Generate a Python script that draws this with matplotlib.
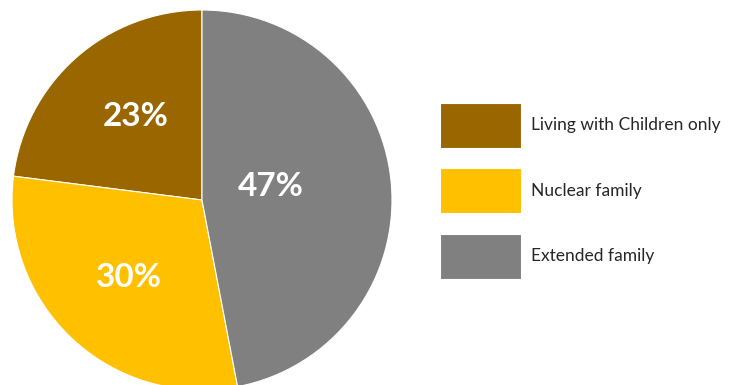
import matplotlib

matplotlib.use("Agg")
import matplotlib.pyplot as plt
import numpy as np

categories = ["Living with Children only", "Nuclear family", "Extended family"]
shares = [23, 30, 47]
colors = ["#996600", "#FFC000", "#808080"]
# radial position of each percentage label, as a fraction of the radius
label_dist = [0.56, 0.56, 0.37]

fig = plt.figure(figsize=(7.37, 3.85), dpi=100)
ax = fig.add_axes([12 / 737, -5 / 385, 380 / 737, 380 / 385])

wedges, _ = ax.pie(
    shares,
    colors=colors,
    startangle=90,
    counterclock=True,
    wedgeprops=dict(edgecolor="white", linewidth=0.8),
)
ax.set_xlim(-1, 1)
ax.set_ylim(-1, 1)
ax.set_aspect("equal")

for w, d, v in zip(wedges, label_dist, shares):
    mid = np.deg2rad((w.theta1 + w.theta2) / 2)
    if v == 47:
        mid = np.deg2rad(11)
    elif v == 23:
        mid -= np.deg2rad(3)
    ax.text(d * np.cos(mid), d * np.sin(mid), f"{v}%", ha="center", va="center",
            color="white", fontsize=24, fontweight="bold", family=["Lato", "DejaVu Sans"])

fs = 12.5
px = fs * 100 / 72
fig.legend(
    wedges,
    categories,
    loc="upper left",
    bbox_to_anchor=(440 / 737, 1 - 103 / 385),
    frameon=False,
    borderpad=0,
    borderaxespad=0,
    handlelength=81 / px,
    handleheight=44 / px * 1.42,
    labelspacing=(65 - 44 - 0.5) / px,
    handletextpad=10 / px,
    prop=dict(family=["Lato", "DejaVu Sans"], size=fs),
    labelcolor="#262626",
)

fig.savefig("out.png", dpi=100)
